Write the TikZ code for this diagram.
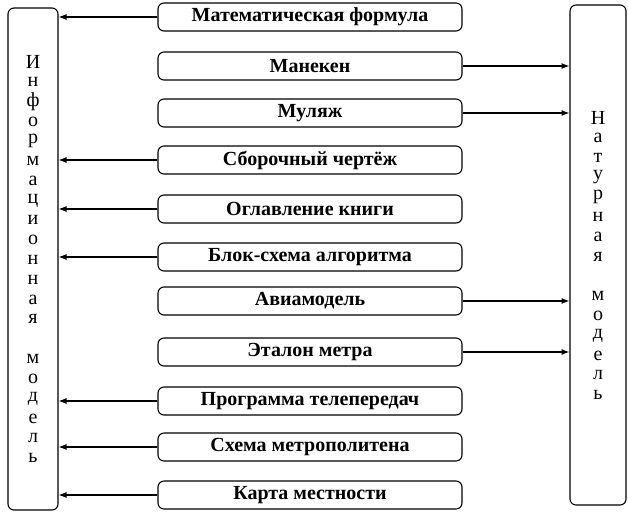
\documentclass[tikz,border=0pt]{standalone}
\usepackage{fontspec}
\setmainfont{Liberation Serif}
\usetikzlibrary{arrows.meta, positioning}
\begin{document}
\begin{tikzpicture}[x=1pt, y=-1pt, >=Latex, line width=1.1pt,
  model/.style={draw, rounded corners=6pt, minimum width=50pt, minimum height=502pt},
  block/.style={draw, rounded corners=6pt, minimum width=304pt, minimum height=28pt, inner sep=1pt, font=\fontsize{20}{22}\selectfont\bfseries},
  letter/.style={font=\fontsize{20}{22}\selectfont, inner sep=0pt}]
\useasboundingbox (0,0) rectangle (628,517);
% Side models
\node [model] (info) at (33,259) {};
\node [model, minimum width=56pt, minimum height=500pt] (nat) at (598,255) {};
\foreach \ch [count=\i] in {И,н,ф,о,р,м,а,ц,и,о,н,н,а,я,{},м,о,д,е,л,ь}
  \node [letter] at (33,{62+(\i-1)*19.8}) {\ch};
\foreach \ch [count=\i] in {Н,а,т,у,р,н,а,я,{},м,о,д,е,л,ь}
  \node [letter] at (598,{118+(\i-1)*19.8}) {\ch};
% Blocks and connectors
\foreach \y/\txt/\side [count=\n] in {
  17/Математическая формула/L,
  66/Манекен/R,
  113/Муляж/R,
  160/Сборочный чертёж/L,
  209/Оглавление книги/L,
  257/Блок-схема алгоритма/L,
  301/Авиамодель/R,
  352/Эталон метра/R,
  401/Программа телепередач/L,
  447/Схема метрополитена/L,
  495/Карта местности/L} {
  \node [block] (b\n) at (310,\y) {\txt};
  \if\side L
    \draw [->] (b\n.west) -- (b\n.west -| info.east);
  \else
    \draw [->] (b\n.east) -- (b\n.east -| nat.west);
  \fi
}
\end{tikzpicture}
\end{document}
